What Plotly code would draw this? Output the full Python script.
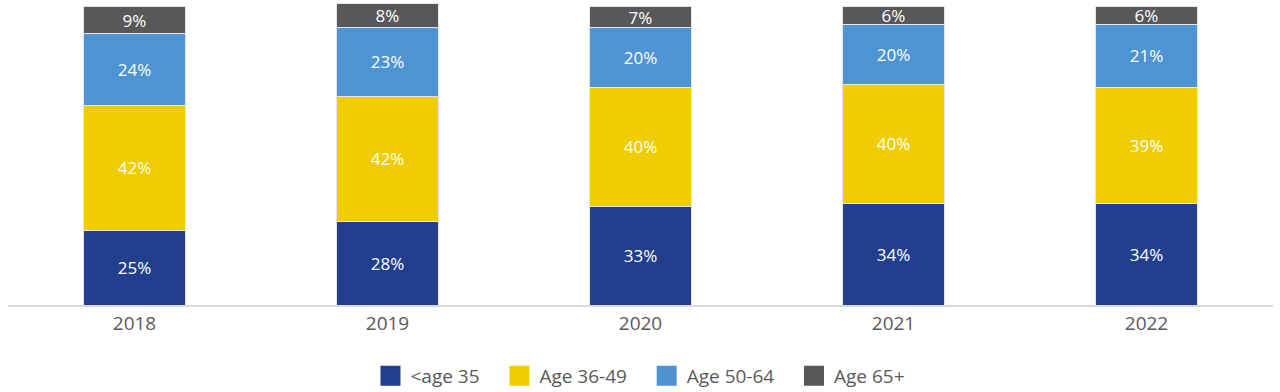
import plotly.graph_objects as go

years = ["2018", "2019", "2020", "2021", "2022"]
under35 = [25, 28, 33, 34, 34]
age36_49 = [42, 42, 40, 40, 39]
age50_64 = [24, 23, 20, 20, 21]
age65 = [9, 8, 7, 6, 6]

series = [
    ("<age 35", under35, "#223F8D"),
    ("Age 36-49", age36_49, "#F0CD00"),
    ("Age 50-64", age50_64, "#4E93D2"),
    ("Age 65+", age65, "#58585A"),
]

FONT = "Open Sans, Noto Sans, sans-serif"
NB = "\u00a0"

fig = go.Figure()
for name, vals, color in series:
    fig.add_trace(go.Bar(
        x=years, y=vals, name=name, showlegend=False,
        marker=dict(color=color, line=dict(color="#E6E6E6", width=1)),
        text=[f"{v}%" for v in vals], textposition="inside",
        insidetextanchor="middle",
        textfont=dict(color="white", size=17, family=FONT),
        hoverinfo="skip",
    ))
for i, (name, vals, color) in enumerate(series):
    label = name + (NB * 3 if i < len(series) - 1 else "")
    fig.add_trace(go.Scatter(
        x=[None], y=[None], mode="markers", name=label,
        marker=dict(symbol="square", size=16, color=color,
                    line=dict(color=color, width=4)),
        hoverinfo="skip",
    ))

fig.update_layout(
    barmode="stack",
    bargap=0.6,
    width=1280, height=392,
    margin=dict(l=8, r=7, t=3, b=87, autoexpand=False),
    plot_bgcolor="white", paper_bgcolor="white",
    font=dict(family=FONT, color="#595959", size=19),
    uniformtext=dict(mode="show", minsize=17),
    legend=dict(orientation="h", x=0.5, xanchor="center",
                yref="container", y=0.041, yanchor="middle",
                font=dict(size=19, color="#595959", family=FONT),
                traceorder="normal", itemsizing="trace", itemwidth=30),
    xaxis=dict(showline=True, linecolor="#D9D9D9", linewidth=2, ticks="",
               tickfont=dict(size=19, color="#595959", family=FONT)),
    yaxis=dict(range=[0, 101.2], visible=False),
)

fig.write_html("out.html", config={"displayModeBar": False},
               post_script="document.body.style.margin='0';")
